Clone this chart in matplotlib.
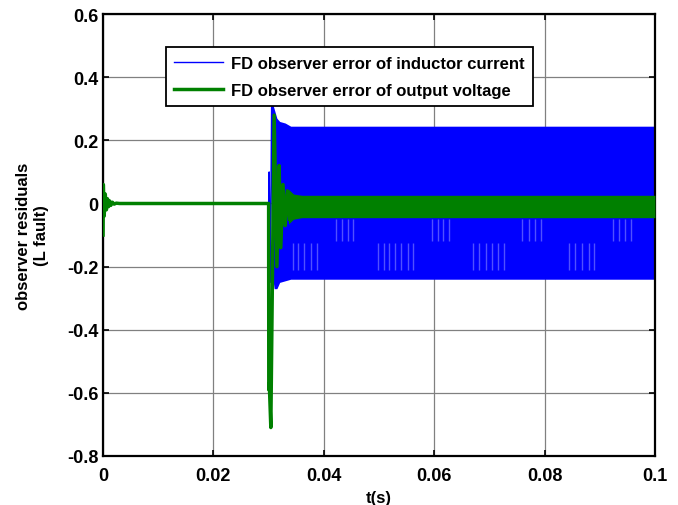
import numpy as np
import matplotlib
matplotlib.use('Agg')
import matplotlib.pyplot as plt

plt.rcParams['font.family'] = ['Liberation Sans', 'DejaVu Sans']
plt.rcParams['font.weight'] = 'bold'

# Output voltage observer error (green): start-up ringing, fault step at 0.03 s, ringing
green_t = [0.0, 0.00005, 0.0002, 0.0004, 0.0006, 0.0008, 0.0010, 0.0012, 0.0014,
           0.0017, 0.0020, 0.0024, 0.0030, 0.0300, 0.03003, 0.03012, 0.03040,
           0.03100, 0.03150, 0.03190, 0.03220, 0.03260, 0.03300, 0.03340, 0.03380]
green_v = [-0.10, 0.06, -0.04, 0.03, -0.02, 0.015, -0.01, 0.008, -0.006,
           0.004, -0.002, 0.001, 0.0, 0.0, -0.59, -0.57, -0.71,
           0.28, -0.20, 0.12, -0.14, 0.06, -0.07, 0.04, -0.05]

# steady oscillation band of the green trace
green_band_t = [0.0336, 0.0345, 0.0360, 0.1000]
green_band_hi = [0.045, 0.030, 0.026, 0.026]
green_band_lo = [-0.065, -0.050, -0.045, -0.045]

# Inductor current observer error (blue): flat then fault oscillation
blue_t = [0.0, 0.0300, 0.03010, 0.03030, 0.03055, 0.03080]
blue_v = [0.0, 0.0, 0.10, -0.25, 0.33, -0.20]

blue_band_t = [0.0305, 0.0310, 0.0315, 0.0320, 0.0330, 0.0340, 0.1000]
blue_band_hi = [0.33, 0.30, 0.27, 0.26, 0.255, 0.245, 0.245]
blue_band_lo = [-0.20, -0.27, -0.27, -0.25, -0.245, -0.24, -0.24]

# light aliasing streaks inside the blue band
streak_a_t = [0.0422, 0.0433, 0.0444, 0.0453, 0.0596, 0.0607, 0.0616, 0.0627,
              0.0760, 0.0771, 0.0782, 0.0793, 0.0924, 0.0935, 0.0945, 0.0956]
streak_a_y = (-0.12, -0.05)
streak_b_t = [0.0344, 0.0353, 0.0365, 0.0376, 0.0387, 0.0498, 0.0509, 0.0518,
              0.0529, 0.0540, 0.0553, 0.0562, 0.0671, 0.0682, 0.0693, 0.0705,
              0.0716, 0.0727, 0.0845, 0.0856, 0.0867, 0.0880, 0.0889]
streak_b_y = (-0.21, -0.125)

x_ticks = [0, 0.02, 0.04, 0.06, 0.08, 0.1]
x_labels = ['0', '0.02', '0.04', '0.06', '0.08', '0.1']
y_ticks = [-0.8, -0.6, -0.4, -0.2, 0, 0.2, 0.4, 0.6]
y_labels = ['-0.8', '-0.6', '-0.4', '-0.2', '0', '0.2', '0.4', '0.6']

fig = plt.figure(figsize=(6.78, 5.06), dpi=100)
ax = fig.add_axes([0.152, 0.097, 0.814, 0.873])

blue = '#0000ff'
green = '#008000'

ax.fill_between(blue_band_t, blue_band_lo, blue_band_hi, color=blue, lw=0, zorder=2)
ax.plot(blue_t, blue_v, color=blue, lw=1, zorder=2,
        label='FD observer error of inductor current')
ax.vlines(streak_a_t, *streak_a_y, color='#5050ff', lw=1.0, zorder=2.5)
ax.vlines(streak_b_t, *streak_b_y, color='#5050ff', lw=1.0, zorder=2.5)

ax.fill_between(green_band_t, green_band_lo, green_band_hi, color=green, lw=0, zorder=3)
ax.plot(green_t, green_v, color=green, lw=2.5, zorder=3,
        label='FD observer error of output voltage')

ax.set_xlim(0, 0.1)
ax.set_ylim(-0.8, 0.6)
ax.set_xticks(x_ticks)
ax.set_xticklabels(x_labels)
ax.set_yticks(y_ticks)
ax.set_yticklabels(y_labels)
ax.tick_params(direction='in', top=True, right=True, labelsize=13, length=4, width=1.2)
ax.tick_params(axis='x', pad=8)
ax.grid(True, color='#808080', lw=0.9)
ax.set_axisbelow(True)
for s in ax.spines.values():
    s.set_linewidth(1.6)

ax.set_xlabel('t(s)', fontsize=12, fontweight='bold', labelpad=4)
ax.set_ylabel('observer residuals\n(L fault)', fontsize=12, fontweight='bold', labelpad=13)

leg = ax.legend(loc='upper left', bbox_to_anchor=(0.114, 0.925), fontsize=12,
                fancybox=False, framealpha=1, edgecolor='black', borderpad=0.5,
                handlelength=2.9, handletextpad=0.5, labelspacing=0.75,
                borderaxespad=0)
leg.get_frame().set_linewidth(1.3)

fig.savefig('out.png', dpi=100)
